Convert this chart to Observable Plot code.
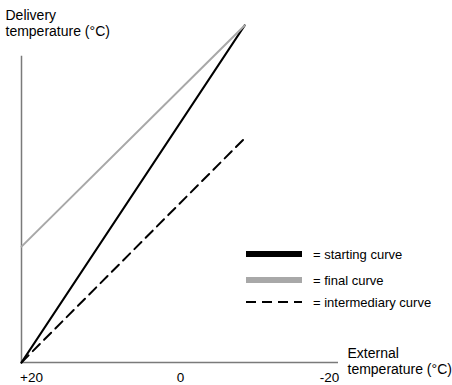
<!DOCTYPE html>
<html><head><meta charset="utf-8">
<script src="https://cdn.jsdelivr.net/npm/d3@7"></script>
<script src="https://cdn.jsdelivr.net/npm/@observablehq/plot@0.6"></script>
<style>
body{margin:0;background:#fff;font-family:"Liberation Sans",Arial,sans-serif;}
#wrap{position:relative;width:452px;height:385px;overflow:hidden;}
#legend{position:absolute;left:0;top:0;}
</style></head><body><div id="wrap"></div>
<script>
// External temperature (°C) at the two ends of each curve (x axis is reversed: +20 left, -20 right)
const externalTemps = [21.34, -8.6];
// Delivery temperature values (arbitrary scale, no ticks on y)
const startingCurve = [20, 86];
const finalCurve = [42.7, 86];
const intermediaryCurve = [20, 63.9];
const yAxisExtent = [20, 80];
const xDomain = [21.34, -21.2];
const yDomain = [20, 86];
const xTicks = [20, 0, -20];
const xTickLabels = ["+20", "0", "-20"];
const seriesNames = ["starting curve", "final curve", "intermediary curve"];
const yTitle = "Delivery\ntemperature (°C)";
const xTitle = "External\ntemperature (°C)";

const curves = [
  {name: seriesNames[0], values: startingCurve, stroke: "#000", width: 2.2, dash: null},
  {name: seriesNames[1], values: finalCurve, stroke: "#a8a8a8", width: 2, dash: null},
  {name: seriesNames[2], values: intermediaryCurve, stroke: "#000", width: 2, dash: "10,6"}
];
const rows = c => externalTemps.map((x, i) => ({x, y: c.values[i]}));

const axisColor = "#7a7a7a";
const chart = Plot.plot({
  width: 452, height: 385,
  marginLeft: 21, marginRight: 114, marginTop: 25, marginBottom: 23,
  style: {fontFamily: "'Liberation Sans', Arial, sans-serif", background: "#fff", overflow: "visible"},
  x: {type: "linear", domain: xDomain, axis: null},
  y: {type: "linear", domain: yDomain, axis: null},
  marks: [
    Plot.ruleY([yDomain[0]], {stroke: axisColor, strokeWidth: 1.5}),
    Plot.ruleX([xDomain[0]], {y1: yAxisExtent[0], y2: yAxisExtent[1], stroke: axisColor, strokeWidth: 1.5}),
    ...curves.map(c => Plot.line(rows(c), {x: "x", y: "y", stroke: c.stroke, strokeWidth: c.width, strokeDasharray: c.dash})),
    Plot.text(xTicks, {x: d => d, frameAnchor: "bottom", lineAnchor: "top", dy: 10, text: (d, i) => xTickLabels[i], fontSize: 13.5, fill: "#000"}),
    Plot.text([yTitle], {frameAnchor: "top-left", textAnchor: "start", lineAnchor: "top", dx: -16, dy: -17, fontSize: 14, lineHeight: 1.15, fill: "#000"}),
    Plot.text([xTitle], {frameAnchor: "bottom-right", textAnchor: "start", lineAnchor: "top", dx: 9, dy: -16, fontSize: 14, lineHeight: 1.15, fill: "#000"})
  ]
});
const wrap = document.getElementById("wrap");
wrap.appendChild(chart);

// Legend
const legendItems = [
  {name: seriesNames[0], stroke: "#000", width: 6, dash: null, cy: 254},
  {name: seriesNames[1], stroke: "#a8a8a8", width: 6, dash: null, cy: 280},
  {name: seriesNames[2], stroke: "#000", width: 2, dash: "10,6", cy: 302}
];
const ns = "http://www.w3.org/2000/svg";
const lg = document.createElementNS(ns, "svg");
lg.setAttribute("id", "legend");
lg.setAttribute("width", 452);
lg.setAttribute("height", 385);
legendItems.forEach(it => {
  const l = document.createElementNS(ns, "line");
  l.setAttribute("x1", 246); l.setAttribute("x2", 302);
  l.setAttribute("y1", it.cy); l.setAttribute("y2", it.cy);
  l.setAttribute("stroke", it.stroke);
  l.setAttribute("stroke-width", it.width);
  if (it.dash) l.setAttribute("stroke-dasharray", it.dash);
  lg.appendChild(l);
  const t = document.createElementNS(ns, "text");
  t.setAttribute("x", 313); t.setAttribute("y", it.cy);
  t.setAttribute("dy", "0.35em");
  t.setAttribute("font-size", 13);
  t.setAttribute("font-family", "'Liberation Sans', Arial, sans-serif");
  t.textContent = "= " + it.name;
  lg.appendChild(t);
});
wrap.appendChild(lg);
</script>
</body></html>
